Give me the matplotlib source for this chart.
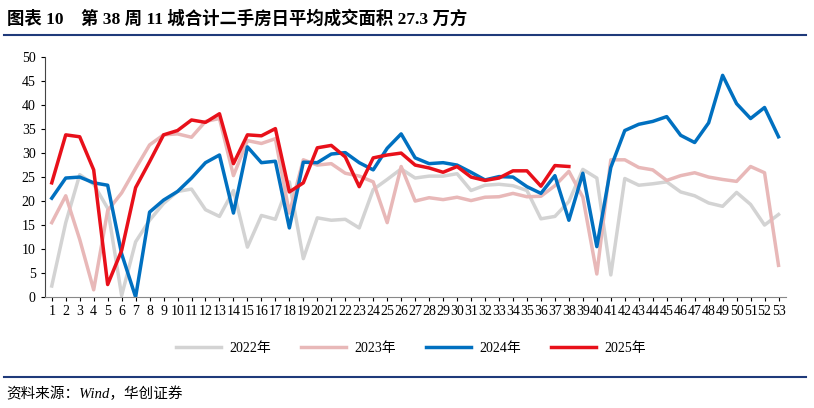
import matplotlib
matplotlib.use("Agg")
import matplotlib.pyplot as plt

weeks = list(range(1, 54))
y2022 = [2.3,15.5,25.5,23.5,18.5,0.3,11.5,16,19.5,22,22.5,18.2,16.8,22.2,10.4,17,16.2,24,8,16.5,16,16.2,14.4,22.4,24.5,26.7,24.8,25.2,25.2,25.7,22.2,23.3,23.5,23.2,22.2,16.3,16.8,19.9,26.6,24.8,4.6,24.7,23.3,23.6,24,21.9,21.1,19.6,18.9,21.8,19.3,15,17.2]
y2023 = [15.5,21.1,12,1.5,18,21.7,26.8,31.7,33.8,34,33.3,36.6,37.2,25.3,32.6,32,33,17.5,28.6,27.5,27.8,25.8,25.2,24,15.5,27.2,20,20.7,20.3,20.8,20.1,20.8,20.9,21.6,20.9,21,23.2,26.2,20.8,4.8,28.6,28.6,27,26.5,24.3,25.3,25.9,25,24.5,24.1,27.2,25.9,6.6]
y2024 = [20.6,24.8,25,23.8,23.3,9,0,17.7,20.2,22,24.8,28,29.6,17.5,31.3,28,28.3,14.4,28.1,28,29.8,30.1,28,26.5,31,34,29,27.8,28,27.5,26,24.4,25.1,25,23,21.6,25.3,16,25.8,10.5,27,34.7,36,36.6,37.6,33.7,32.2,36.3,46.2,40.3,37.2,39.5,33.4]
y2025 = [23.8,33.8,33.4,26.5,2.6,9.7,22.8,28.2,33.8,34.7,36.9,36.4,38.2,27.8,33.8,33.6,35.1,21.9,23.8,31.1,31.6,29.2,23,29,29.6,30,27.5,26.9,26,27.2,25,24.3,24.8,26.3,26.3,23.1,27.4,27.2]
yticks = list(range(0, 51, 5))
title = "图表 10    第 38 周 11 城合计二手房日平均成交面积 27.3 万方"
source = "资料来源：Wind，华创证券"

plt.rcParams["font.family"] = ["Liberation Serif", "Noto Sans CJK SC"]
fig = plt.figure(figsize=(8.14, 4.08), dpi=100)
ax = fig.add_axes([0.055, 0.272, 0.91, 0.588])
ax.plot(weeks, y2022, color="#d3d3d3", lw=2.5, label="2022年")
ax.plot(weeks, y2023, color="#e8b8b8", lw=2.5, label="2023年")
ax.plot(weeks, y2024, color="#0070c0", lw=2.5, label="2024年")
ax.plot(weeks[:len(y2025)], y2025, color="#e8101a", lw=2.5, label="2025年")
ax.set_xlim(0.5, 53.5)
ax.set_ylim(0, 50)
ax.set_yticks(yticks)
ax.set_xticks(weeks)
ax.set_xticklabels([str(w) for w in weeks], fontsize=10)
ax.tick_params(axis="x", length=3, direction="out", pad=3)
ax.tick_params(axis="y", length=3, direction="out", labelsize=10)
for s in ["top", "right"]:
    ax.spines[s].set_visible(False)
ax.spines["bottom"].set_color("#888888")
ax.spines["left"].set_color("#444444")
fig.legend(loc="center", bbox_to_anchor=(0.505, 0.145), ncol=4, frameon=False,
           handlelength=3.2, columnspacing=2.2, handletextpad=0.6,
           prop={"family": ["Liberation Serif", "Noto Sans CJK SC"], "size": 10})
fig.text(0.008, 0.955, title, fontsize=12.5, fontweight="bold", va="center",
         family=["Liberation Serif", "Noto Sans CJK SC"])
fig.add_artist(plt.Line2D([0.005, 0.99], [0.915, 0.915], color="#1f3a7a", lw=1.5))
fig.add_artist(plt.Line2D([0.005, 0.99], [0.075, 0.075], color="#1f3a7a", lw=1.5))
fig.text(0.008, 0.035, source, fontsize=10.5, style="italic", va="center")
fig.savefig("out.png", dpi=100)
